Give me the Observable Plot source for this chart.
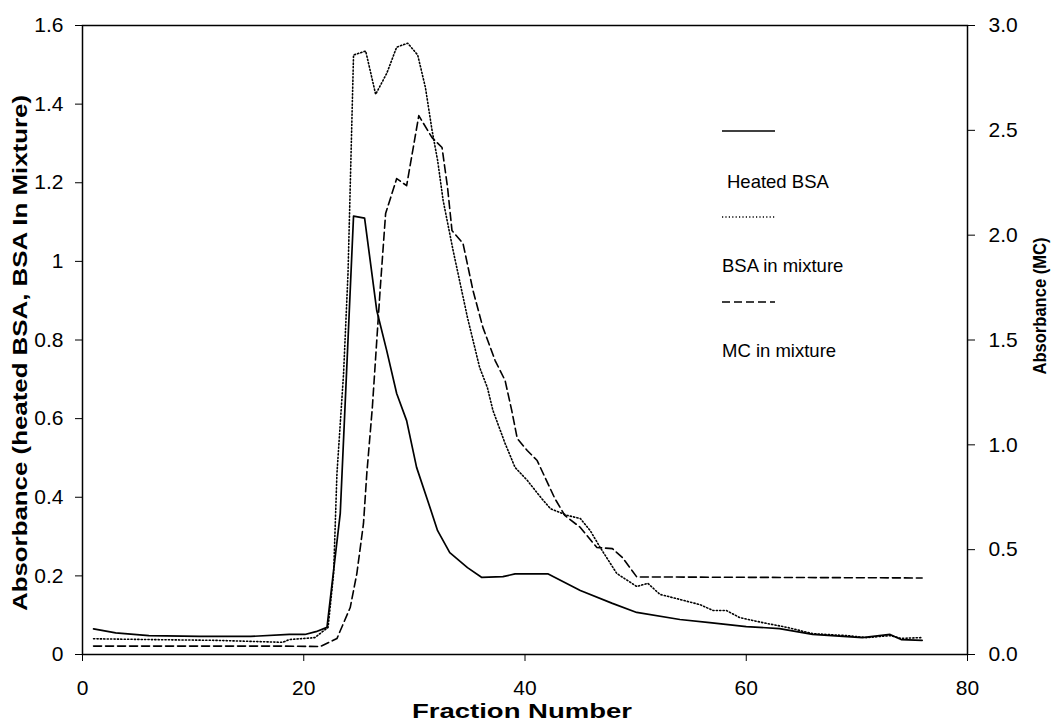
<!DOCTYPE html>
<html>
<head>
<meta charset="utf-8">
<script src="https://cdn.jsdelivr.net/npm/d3@7"></script>
<script src="https://cdn.jsdelivr.net/npm/@observablehq/plot@0.6"></script>
<style>
  html, body { margin: 0; padding: 0; background: #fff; overflow: hidden; }
  #chart { width: 1054px; height: 727px; }
  #chart svg { display: block; }
</style>
</head>
<body>
<div id="chart"></div>
<script>
// Elution profiles: absorbance per fraction number
const heatedX = [1, 3, 6, 10.6, 15.2, 18.7, 20.1, 21.1, 22.1, 23.3, 24.5, 25.5, 26.6, 27.5, 28.4, 29.3, 30.2, 31.2, 32.1, 33.2, 34.8, 36.1, 38.0, 39.1, 42.1, 45.0, 47.9, 50.1, 54.0, 56.7, 60.0, 63.0, 66.0, 70.5, 73.0, 74.0, 75.9];
const heatedY = [0.065, 0.055, 0.048, 0.046, 0.046, 0.051, 0.051, 0.058, 0.069, 0.359, 1.115, 1.110, 0.875, 0.773, 0.664, 0.595, 0.476, 0.392, 0.315, 0.259, 0.221, 0.196, 0.198, 0.205, 0.205, 0.163, 0.130, 0.107, 0.089, 0.081, 0.071, 0.066, 0.051, 0.043, 0.051, 0.038, 0.036];

const mixtureX = [1, 6, 12, 18.1, 18.7, 21.0, 22.2, 22.7, 23.0, 23.6, 24.0, 24.2, 24.5, 25.6, 26.5, 27.5, 28.4, 29.4, 30.3, 31.0, 31.6, 32.1, 32.6, 33.5, 34.8, 35.9, 36.6, 37.1, 38.2, 39.1, 40.2, 41.5, 42.3, 43.8, 45.0, 45.9, 46.8, 48.3, 50.1, 51.1, 52.2, 54.0, 55.8, 57.0, 58.2, 59.4, 61.5, 63.7, 66.0, 69.1, 70.9, 73.0, 74.0, 75.9];
const mixtureY = [0.040, 0.038, 0.036, 0.031, 0.038, 0.043, 0.069, 0.206, 0.460, 0.715, 0.969, 1.188, 1.525, 1.535, 1.425, 1.478, 1.545, 1.555, 1.525, 1.442, 1.333, 1.257, 1.155, 1.028, 0.857, 0.730, 0.679, 0.621, 0.537, 0.476, 0.443, 0.397, 0.371, 0.354, 0.346, 0.315, 0.272, 0.206, 0.173, 0.181, 0.153, 0.140, 0.127, 0.112, 0.112, 0.094, 0.081, 0.069, 0.053, 0.048, 0.043, 0.048, 0.041, 0.043];

// MC in mixture is read on the right-hand axis (0–3.0)
const mcX = [1, 18.1, 21.5, 23.0, 24.2, 24.8, 25.4, 25.7, 26.2, 26.6, 26.9, 27.4, 28.4, 29.3, 30.4, 31.6, 32.5, 33.0, 33.4, 34.4, 35.3, 36.2, 37.3, 38.2, 38.8, 39.3, 40.2, 41.1, 42.7, 43.6, 45.0, 46.5, 47.9, 48.8, 50.1, 75.9];
const mcY = [0.040, 0.040, 0.038, 0.076, 0.224, 0.386, 0.625, 0.863, 1.178, 1.497, 1.736, 2.103, 2.270, 2.236, 2.570, 2.465, 2.418, 2.227, 2.022, 1.960, 1.736, 1.559, 1.402, 1.307, 1.164, 1.030, 0.973, 0.925, 0.744, 0.663, 0.606, 0.510, 0.505, 0.463, 0.370, 0.365];

const xTicks = [0, 20, 40, 60, 80];
const leftTicks = [0, 0.2, 0.4, 0.6, 0.8, 1, 1.2, 1.4, 1.6];
const rightTicks = [0, 0.5, 1.0, 1.5, 2.0, 2.5, 3.0];
const seriesNames = ["Heated BSA", "BSA in mixture", "MC in mixture"];
const axisTitles = {
  x: "Fraction Number",
  left: "Absorbance (heated BSA, BSA In Mixture)",
  right: "Absorbance (MC)"
};

const LEFT_MAX = 1.6, RIGHT_MAX = 3.0;
const k = LEFT_MAX / RIGHT_MAX; // right-axis units -> left-axis units

const heated = heatedX.map((x, i) => ({x, y: heatedY[i]}));
const mixture = mixtureX.map((x, i) => ({x, y: mixtureY[i]}));
const mc = mcX.map((x, i) => ({x, y: mcY[i]}));

const W = 1054, H = 727;
const M = {left: 82, right: 87, top: 25, bottom: 73};
const FONT = "'Liberation Sans', Arial, Helvetica, sans-serif";

const styles = {
  heated: {strokeDasharray: null, strokeWidth: 1.7},
  mixture: {strokeDasharray: "1.2,2.2", strokeWidth: 1.6},
  mc: {strokeDasharray: "8,4", strokeWidth: 1.6}
};

const plot = Plot.plot({
  width: W,
  height: H,
  marginLeft: M.left,
  marginRight: M.right,
  marginTop: M.top,
  marginBottom: M.bottom,
  x: {domain: [0, 80]},
  y: {domain: [0, LEFT_MAX]},
  style: {fontFamily: FONT, fontSize: "21px", color: "#000", background: "#fff", overflow: "visible"},
  marks: [
    Plot.frame({stroke: "#000", strokeWidth: 1.5}),
    Plot.axisX({ticks: xTicks, tickSize: 7, tickPadding: 19, tickFormat: d => String(d), label: null, fontSize: 21}),
    Plot.axisY({ticks: leftTicks, tickSize: 7, tickPadding: 12, tickFormat: d => d3.format("~g")(d), label: null, fontSize: 21}),
    Plot.axisY({anchor: "right", ticks: rightTicks.map(v => v * k), tickSize: 7, tickPadding: 14,
      tickFormat: v => (Math.round(v / k * 10) / 10).toFixed(1), label: null, fontSize: 21}),
    Plot.line(heated, {x: "x", y: "y", stroke: "#000", strokeWidth: styles.heated.strokeWidth}),
    Plot.line(mixture, {x: "x", y: "y", stroke: "#000", strokeWidth: styles.mixture.strokeWidth, strokeDasharray: styles.mixture.strokeDasharray}),
    Plot.line(mc, {x: "x", y: d => d.y * k, stroke: "#000", strokeWidth: styles.mc.strokeWidth, strokeDasharray: styles.mc.strokeDasharray})
  ]
});

document.getElementById("chart").appendChild(plot);

// Axis titles and in-plot legend
const svg = d3.select(plot);

function title(sel, len) {
  return sel
    .attr("text-anchor", "middle")
    .attr("font-family", FONT)
    .attr("font-weight", "bold")
    .attr("textLength", len)
    .attr("lengthAdjust", "spacingAndGlyphs");
}

title(svg.append("text")
  .attr("x", 522)
  .attr("y", 718)
  .attr("font-size", 20), 220)
  .text(axisTitles.x);

title(svg.append("text")
  .attr("transform", `translate(27, 353) rotate(-90)`)
  .attr("font-size", 21), 516)
  .text(axisTitles.left);

title(svg.append("text")
  .attr("transform", `translate(1046, 306) rotate(-90)`)
  .attr("font-size", 19), 137)
  .text(axisTitles.right);

const legend = svg.append("g")
  .attr("font-family", FONT)
  .attr("font-size", 18.5)
  .attr("text-anchor", "start");
const legendRows = [
  {name: seriesNames[0], style: styles.heated, lineY: 131, textX: 727, textY: 188},
  {name: seriesNames[1], style: styles.mixture, lineY: 217, textX: 722, textY: 272},
  {name: seriesNames[2], style: styles.mc, lineY: 302, textX: 722, textY: 357}
];
for (const r of legendRows) {
  legend.append("line")
    .attr("x1", 722).attr("x2", 775)
    .attr("y1", r.lineY).attr("y2", r.lineY)
    .attr("stroke", "#000")
    .attr("stroke-width", r.style.strokeWidth)
    .attr("stroke-dasharray", r.style.strokeDasharray);
  legend.append("text")
    .attr("x", r.textX).attr("y", r.textY)
    .attr("text-anchor", "start")
    .text(r.name);
}
</script>
</body>
</html>
